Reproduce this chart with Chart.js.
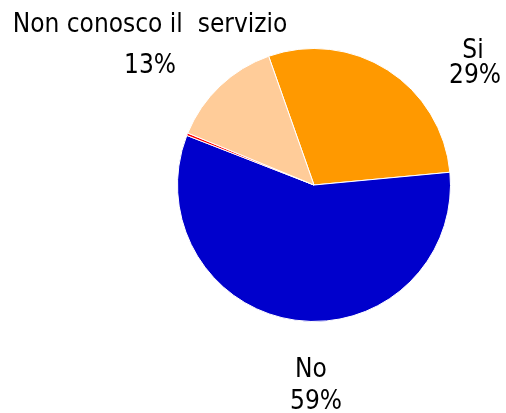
<!DOCTYPE html>
<html>
<head>
<meta charset="utf-8">
<script src="https://cdn.jsdelivr.net/npm/chart.js@4"></script>
<style>
  body { margin: 0; background: #fff; }
</style>
</head>
<body>
<canvas id="pieChart" width="506" height="413"></canvas>
<script>
// Data
const categories = ["Si", "No", "", "Non conosco il  servizio"];
const values = [28.9, 57.4, 0.3, 13.4];
const percentLabels = ["29%", "59%", "", "13%"];
const sliceColors = ["#FF9900", "#0000CC", "#FF0000", "#FFCC99"];

// Text labels placed like the original (alphabetic baselines)
const labelPlugin = {
  id: "pieLabels",
  afterDraw(chart) {
    const ctx = chart.ctx;
    ctx.save();
    ctx.font = "26px 'DejaVu Sans Condensed', 'DejaVu Sans'";
    ctx.fillStyle = "#000";
    ctx.textAlign = "center";
    ctx.textBaseline = "alphabetic";
    // Si
    ctx.fillText(categories[0], 473, 58);
    ctx.fillText(percentLabels[0], 475, 83);
    // No
    ctx.fillText(categories[1], 311, 377);
    ctx.fillText(percentLabels[1], 316, 409);
    // Non conosco
    ctx.fillText(categories[3], 150, 32);
    ctx.fillText(percentLabels[3], 150, 73);
    ctx.restore();
  },
};

new Chart(document.getElementById("pieChart").getContext("2d"), {
  type: "pie",
  data: {
    labels: categories,
    datasets: [
      {
        data: values,
        backgroundColor: sliceColors,
        borderColor: "#fff",
        borderWidth: 1,
      },
    ],
  },
  options: {
    responsive: false,
    animation: false,
    rotation: -19.4,
    layout: { padding: { left: 177, right: 55, top: 48, bottom: 91 } },
    plugins: {
      legend: { display: false },
      tooltip: { enabled: false },
    },
  },
  plugins: [labelPlugin],
});
</script>
</body>
</html>
